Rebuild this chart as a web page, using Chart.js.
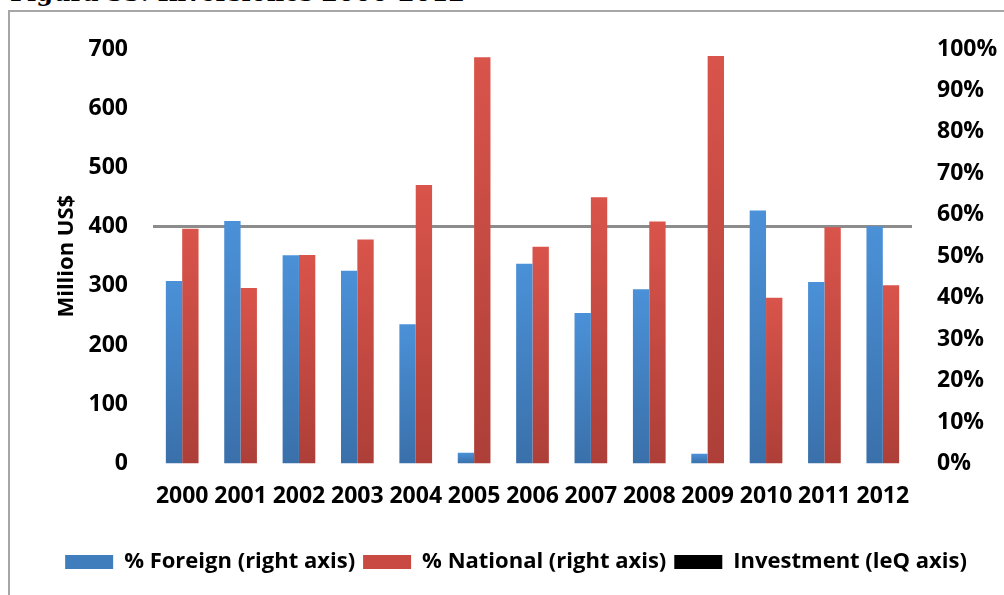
<!DOCTYPE html>
<html>
<head>
<meta charset="utf-8">
<script src="https://cdn.jsdelivr.net/npm/chart.js@4"></script>
<style>
  html, body { margin: 0; padding: 0; background: #fff; overflow: hidden; }
  #wrap { position: relative; width: 1004px; height: 595px; }
  #caption {
    position: absolute; left: 10px; top: -22px;
    font: bold 24px "DejaVu Serif", serif; color: #000; white-space: nowrap;
  }
  #frame {
    position: absolute; left: 8px; top: 10px; width: 1010px; height: 600px;
    border-left: 2px solid #a6a6a6; border-top: 2px solid #a6a6a6;
  }
  #chart { position: absolute; left: 0; top: 0; }
</style>
</head>
<body>
<div id="wrap">
  <div id="caption">Figura 33: Inversiones 2000-2012</div>
  <div id="frame"></div>
  <canvas id="chart" width="1004" height="595"></canvas>
</div>
<script>
const years = ['2000', '2001', '2002', '2003', '2004', '2005', '2006',
               '2007', '2008', '2009', '2010', '2011', '2012'];
// shares in percent, right axis
const foreignPct = [44, 58.5, 50.2, 46.5, 33.6, 2.6, 48.2, 36.3, 42, 2.3, 61, 43.8, 57.2];
const nationalPct = [56.6, 42.3, 50.3, 54, 67.2, 98, 52.3, 64.2, 58.4, 98.3, 40, 57, 43];
// investment series (left axis), no values plotted
const investment = years.map(() => null);
const invTicks = [0, 100, 200, 300, 400, 500, 600, 700];
const pctTicks = [0, 10, 20, 30, 40, 50, 60, 70, 80, 90, 100];

const tickFont = { family: 'Open Sans', size: 23, weight: 'bold' };
const padLeft = 28;

// vertical shading on each bar, lighter at the top
function barFill(top, bottom) {
  return function (ctx) {
    const chart = ctx.chart;
    const scale = chart.scales.yPct;
    if (!scale || ctx.parsed === undefined || !chart.chartArea) return top;
    const y1 = scale.getPixelForValue(ctx.parsed.y);
    const y0 = scale.getPixelForValue(0);
    if (!isFinite(y1) || Math.abs(y0 - y1) < 1) return top;
    const g = chart.ctx.createLinearGradient(0, y1, 0, y0);
    g.addColorStop(0, top);
    g.addColorStop(1, bottom);
    return g;
  };
}

new Chart(document.getElementById('chart'), {
  data: {
    labels: years,
    datasets: [
      {
        type: 'bar',
        label: '% Foreign (right axis)',
        data: foreignPct,
        yAxisID: 'yPct',
        backgroundColor: barFill('#4b91d8', '#3a70aa'),
        categoryPercentage: 0.56,
        barPercentage: 1.0
      },
      {
        type: 'bar',
        label: '% National (right axis)',
        data: nationalPct,
        yAxisID: 'yPct',
        backgroundColor: barFill('#d9544b', '#ad3f38'),
        categoryPercentage: 0.56,
        barPercentage: 1.0
      },
      {
        type: 'line',
        label: 'Investment (leQ axis)',
        data: investment,
        yAxisID: 'yInv',
        borderColor: '#000',
        backgroundColor: '#000',
        borderWidth: 3,
        pointRadius: 0
      }
    ]
  },
  options: {
    responsive: false,
    animation: false,
    events: [],
    layout: { padding: { left: padLeft, right: 0, top: 49, bottom: 12 } },
    plugins: {
      tooltip: { enabled: false },
      legend: {
        position: 'bottom',
        labels: {
          color: '#000',
          font: { family: 'Open Sans', size: 22, weight: 'bold' },
          boxWidth: 48,
          boxHeight: 14,
          padding: 8,
          generateLabels: function (chart) {
            const colors = ['#3f7dbd', '#c94a42', '#000'];
            return chart.data.datasets.map((ds, i) => ({
              text: ds.label,
              fillStyle: colors[i],
              strokeStyle: colors[i],
              lineWidth: 0,
              datasetIndex: i,
              hidden: false
            }));
          }
        }
      }
    },
    scales: {
      x: {
        grid: { display: false, drawTicks: false },
        border: { display: false },
        ticks: { color: '#000', font: tickFont, padding: 19, maxRotation: 0, autoSkip: false },
        afterFit: function (axis) { axis.height += 14; }
      },
      yInv: {
        position: 'left',
        min: 0,
        max: 700,
        afterBuildTicks: function (axis) {
          axis.ticks = invTicks.map(v => ({ value: v }));
        },
        afterFit: function (axis) { axis.width = 153 - padLeft; },
        border: { display: false },
        grid: {
          drawTicks: false,
          lineWidth: 3,
          color: function (ctx) {
            return ctx.tick && ctx.tick.value === 400 ? '#8c8c8c' : 'rgba(0,0,0,0)';
          }
        },
        ticks: { color: '#000', font: tickFont, padding: 25 },
        title: {
          display: true,
          text: 'Million US$',
          color: '#000',
          font: { family: 'Open Sans', size: 22, weight: 'bold' },
          padding: { top: 54 - padLeft, bottom: 0 }
        }
      },
      yPct: {
        position: 'right',
        min: 0,
        max: 100,
        afterBuildTicks: function (axis) {
          axis.ticks = pctTicks.map(v => ({ value: v }));
        },
        afterFit: function (axis) { axis.width = 92; },
        border: { display: false },
        grid: { display: false, drawTicks: false },
        ticks: {
          color: '#000',
          font: tickFont,
          padding: 25,
          callback: v => v + '%'
        }
      }
    }
  }
});
</script>
</body>
</html>
